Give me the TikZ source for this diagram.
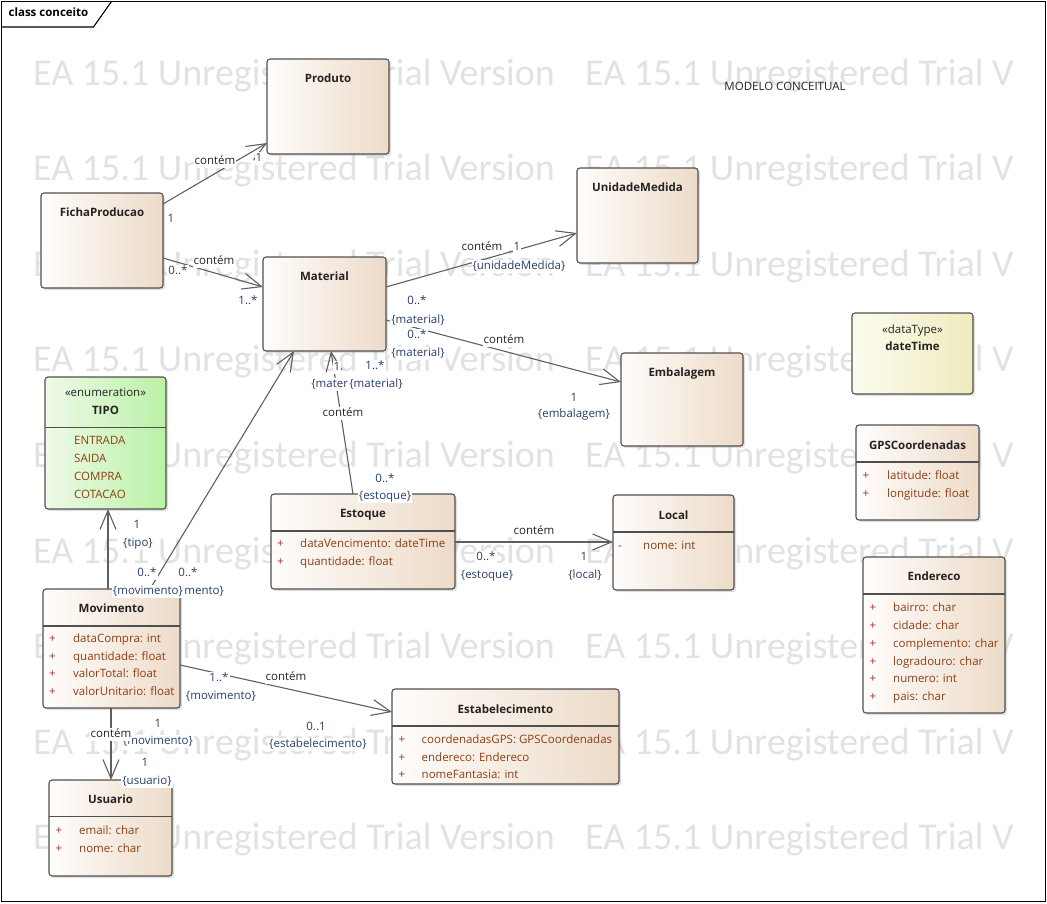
\documentclass[tikz,border=0pt]{standalone}
\usepackage{fontspec}
\setmainfont{Open Sans}
\newfontfamily\wmfont{Carlito}
\usepackage{xcolor}
\usepackage{tikz}
\usetikzlibrary{arrows.meta,positioning,shadows}

\definecolor{boxline}{RGB}{80,80,80}
\definecolor{linkline}{RGB}{95,95,95}
\definecolor{clsleft}{RGB}{255,253,251}
\definecolor{clsright}{RGB}{237,219,201}
\definecolor{enumleft}{RGB}{238,250,232}
\definecolor{enumright}{RGB}{186,241,166}
\definecolor{typeleft}{RGB}{252,252,238}
\definecolor{typeright}{RGB}{239,235,190}
\definecolor{titletext}{RGB}{35,35,35}
\definecolor{attrtext}{RGB}{140,62,20}
\definecolor{vistext}{RGB}{165,40,40}
\definecolor{roletext}{RGB}{40,62,105}
\definecolor{wmgray}{RGB}{226,226,226}

\begin{document}
\begin{tikzpicture}[
    x=1pt, y=-1pt,
    font=\fontsize{11.5}{14}\selectfont,
    classbox/.style={draw=boxline, line width=1.1pt, rounded corners=3pt, anchor=north west, inner sep=0pt, outer sep=0pt,
        left color=clsleft, right color=clsright, drop shadow={shadow xshift=2pt, shadow yshift=-2pt, opacity=0.25}},
    enumbox/.style={classbox, left color=enumleft, right color=enumright},
    typebox/.style={classbox, left color=typeleft, right color=typeright},
    txt/.style={inner sep=0pt, text height=8.5pt, text depth=2.5pt},
    title/.style={txt, text=titletext, font=\fontsize{11.5}{14}\selectfont\bfseries},
    stereo/.style={txt, text=titletext},
    attr/.style={txt, anchor=west, text=attrtext},
    vis/.style={txt, text=vistext},
    sep/.style={draw=boxline, line width=1.1pt},
    assoc/.style={draw=linkline, line width=1.1pt, -{Straight Barb[length=19pt, width=16pt]}},
    role/.style={txt, inner sep=1pt, fill=white, text=roletext},
    verb/.style={txt, inner sep=1pt, fill=white, text=titletext},
    watermark/.style={anchor=base west, inner sep=0pt, text=wmgray, font=\wmfont\fontsize{38}{40}\selectfont}
]
    \useasboundingbox (0,0) rectangle (1047,903);

    % Watermark
    \begin{scope}
        \clip (0,0) rectangle (1012,903);
        \foreach \r in {0,...,8} {
            \node[watermark] (wm-a\r) at (33,{85+95.6*\r}) {EA 15.1 Unregistered Trial Version};
            \node[watermark] (wm-b\r) at (585,{85+95.6*\r}) {EA 15.1 Unregistered Trial Version};
        }
    \end{scope}

    % Frame
    \draw[line width=1.3pt] (1.5,1.5) rectangle (1045.5,901.5);
    \draw[line width=1.1pt] (1.5,27) -- (93.5,27) -- (111.5,1.5);
    \node[title, text=black] (frame-t) at (48.5,13.5) {class conceito};
    \node[stereo] (note) at (785,87) {MODELO CONCEITUAL};

    % Classes
    \node[classbox, minimum width=122pt, minimum height=95pt] (produto) at (267,59) {};
    \node[title] (produto-t) at ([shift={(0,20.5)}]produto.north) {Produto};

    \node[classbox, minimum width=122pt, minimum height=95pt] (ficha) at (41,193) {};
    \node[title] (ficha-t) at ([shift={(0,20.5)}]ficha.north) {FichaProducao};

    \node[classbox, minimum width=123pt, minimum height=94pt] (material) at (263,257) {};
    \node[title] (material-t) at ([shift={(0,20.5)}]material.north) {Material};

    \node[classbox, minimum width=121pt, minimum height=95pt] (unidade) at (577,168) {};
    \node[title] (unidade-t) at ([shift={(0,20.5)}]unidade.north) {UnidadeMedida};

    \node[classbox, minimum width=122pt, minimum height=93pt] (embalagem) at (621,353) {};
    \node[title] (embalagem-t) at ([shift={(0,20)}]embalagem.north) {Embalagem};

    \node[typebox, minimum width=121pt, minimum height=81pt] (datetime) at (852,313) {};
    \node[stereo] (datetime-s) at ([shift={(0,17.5)}]datetime.north) {«dataType»};
    \node[title] (datetime-t) at ([shift={(0,34)}]datetime.north) {dateTime};

    \node[classbox, minimum width=123pt, minimum height=95pt] (gps) at (856,425) {};
    \node[title] (gps-t) at ([shift={(0,21.5)}]gps.north) {GPSCoordenadas};
    \draw[sep] ([shift={(0,37)}]gps.north west) -- ([shift={(0,37)}]gps.north east);
    \foreach \t [count=\i] in {latitude: float, longitude: float} {
        \node[vis] (gps-v\i) at ([shift={(10,{51.5+18*(\i-1)})}]gps.north west) {+};
        \node[attr] (gps-a\i) at ([shift={(31,{51.5+18*(\i-1)})}]gps.north west) {\t};
    }

    \node[classbox, minimum width=142pt, minimum height=156pt] (endereco) at (863,557) {};
    \node[title] (endereco-t) at ([shift={(0,20.5)}]endereco.north) {Endereco};
    \draw[sep] ([shift={(0,37)}]endereco.north west) -- ([shift={(0,37)}]endereco.north east);
    \foreach \t [count=\i] in {bairro: char, cidade: char, complemento: char, logradouro: char, numero: int, pais: char} {
        \node[vis] (endereco-v\i) at ([shift={(10,{51.3+17.9*(\i-1)})}]endereco.north west) {+};
        \node[attr] (endereco-a\i) at ([shift={(30,{51.3+17.9*(\i-1)})}]endereco.north west) {\t};
    }

    \node[classbox, minimum width=121pt, minimum height=95pt] (local) at (613,495) {};
    \node[title] (local-t) at ([shift={(0,21)}]local.north) {Local};
    \draw[sep] ([shift={(0,37)}]local.north west) -- ([shift={(0,37)}]local.north east);
    \node[vis] (local-v1) at ([shift={(7,51.5)}]local.north west) {-};
    \node[attr] (local-a1) at ([shift={(30,51.5)}]local.north west) {nome: int};

    \node[classbox, minimum width=184pt, minimum height=95pt] (estoque) at (271,494) {};
    \node[title] (estoque-t) at ([shift={(0,20.5)}]estoque.north) {Estoque};
    \draw[sep] ([shift={(0,37)}]estoque.north west) -- ([shift={(0,37)}]estoque.north east);
    \foreach \t [count=\i] in {dataVencimento: dateTime, quantidade: float} {
        \node[vis] (estoque-v\i) at ([shift={(9.5,{50.5+17.9*(\i-1)})}]estoque.north west) {+};
        \node[attr] (estoque-a\i) at ([shift={(29,{50.5+17.9*(\i-1)})}]estoque.north west) {\t};
    }

    \node[classbox, minimum width=227pt, minimum height=95pt] (estab) at (392,689) {};
    \node[title] (estab-t) at ([shift={(0,21)}]estab.north) {Estabelecimento};
    \draw[sep] ([shift={(0,37)}]estab.north west) -- ([shift={(0,37)}]estab.north east);
    \foreach \t [count=\i] in {coordenadasGPS: GPSCoordenadas, endereco: Endereco, nomeFantasia: int} {
        \node[vis] (estab-v\i) at ([shift={(10,{51.5+17.7*(\i-1)})}]estab.north west) {+};
        \node[attr] (estab-a\i) at ([shift={(29.5,{51.5+17.7*(\i-1)})}]estab.north west) {\t};
    }

    \node[enumbox, minimum width=121pt, minimum height=132pt] (tipo) at (45,377) {};
    \node[stereo] (tipo-s) at ([shift={(0,16)}]tipo.north) {«enumeration»};
    \node[title] (tipo-t) at ([shift={(0,34)}]tipo.north) {TIPO};
    \draw[sep] ([shift={(0,50.5)}]tipo.north west) -- ([shift={(0,50.5)}]tipo.north east);
    \foreach \t [count=\i] in {ENTRADA, SAIDA, COMPRA, COTACAO} {
        \node[attr] (tipo-a\i) at ([shift={(29,{64+18*(\i-1)})}]tipo.north west) {\t};
    }

    \node[classbox, minimum width=137pt, minimum height=119pt] (movimento) at (43,589) {};
    \node[title] (movimento-t) at ([shift={(0,20.5)}]movimento.north) {Movimento};
    \draw[sep] ([shift={(0,37)}]movimento.north west) -- ([shift={(0,37)}]movimento.north east);
    \foreach \t [count=\i] in {dataCompra: int, quantidade: float, valorTotal: float, valorUnitario: float} {
        \node[vis] (movimento-v\i) at ([shift={(9.5,{50.5+17.6*(\i-1)})}]movimento.north west) {+};
        \node[attr] (movimento-a\i) at ([shift={(30,{50.5+17.6*(\i-1)})}]movimento.north west) {\t};
    }

    \node[classbox, minimum width=123pt, minimum height=96pt] (usuario) at (49,780) {};
    \node[title] (usuario-t) at ([shift={(0,20.5)}]usuario.north) {Usuario};
    \draw[sep] ([shift={(0,36.7)}]usuario.north west) -- ([shift={(0,36.7)}]usuario.north east);
    \foreach \t [count=\i] in {email: char, nome: char} {
        \node[vis] (usuario-v\i) at ([shift={(10,{51+18*(\i-1)})}]usuario.north west) {+};
        \node[attr] (usuario-a\i) at ([shift={(30,{51+18*(\i-1)})}]usuario.north west) {\t};
    }

    % Associations
    \draw[assoc] ([shift={(122,11)}]ficha.north west) -- ([shift={(0,84)}]produto.north west);
    \draw[assoc] ([shift={(122,65)}]ficha.north west) -- ([shift={(0,30)}]material.north west);
    \draw[assoc] ([shift={(123,30)}]material.north west) -- ([shift={(0,65)}]unidade.north west);
    \draw[assoc] ([shift={(123,63)}]material.north west) -- ([shift={(0,29)}]embalagem.north west);
    \draw[assoc] ([shift={(82,0)}]estoque.north west) -- ([shift={(68,94)}]material.north west);
    \draw[assoc] ([shift={(107,0)}]movimento.north west) -- ([shift={(31,94)}]material.north west);
    \draw[assoc] ([shift={(65,0)}]movimento.north west) -- ([shift={(63,132)}]tipo.north west);
    \draw[assoc] ([shift={(137,76)}]movimento.north west) -- ([shift={(0,23)}]estab.north west);
    \draw[assoc] ([shift={(68,119)}]movimento.north west) -- ([shift={(62,0)}]usuario.north west);
    \draw[assoc] ([shift={(184,48)}]estoque.north west) -- ([shift={(0,47)}]local.north west);

    % Labels
    \node[verb] (v-fp) at (215,161) {contém};
    \node[role] (r-fp1) at (259,158) {1};
    \node[role] (r-fp2) at (171,219) {1};

    \node[verb] (v-fm) at (214,261) {contém};
    \node[role] (r-fm1) at (178,271) {0..*};
    \node[role] (r-fm2) at (248,301) {1..*};

    \node[verb] (v-mu) at (482,247) {contém};
    \node[role] (r-mu1) at (517,247) {1};
    \node[role] (r-mu2) at (519,266) {\{unidadeMedida\}};
    \node[role] (r-mu3) at (417,301) {0..*};
    \node[role] (r-mu4) at (418,320) {\{material\}};

    \node[role] (r-me1) at (417,335) {0..*};
    \node[role] (r-me2) at (418,353) {\{material\}};
    \node[verb] (v-me) at (504,340) {contém};
    \node[role] (r-me3) at (574,398) {1};
    \node[role] (r-me4) at (574,414) {\{embalagem\}};

    \node[role] (r-em1) at (337,367) {1};
    \node[role] (r-em2) at (338,384) {\{material\}};
    \node[role] (r-vm3) at (375,366) {1..*};
    \node[role] (r-vm4) at (376,384) {\{material\}};
    \node[verb] (v-em) at (343,413) {contém};
    \node[role] (r-em3) at (385,479) {0..*};
    \node[role] (r-em4) at (385,496) {\{estoque\}};

    \node[role] (r-vm1) at (188,573) {0..*};
    \node[role] (r-vm2) at (189,591) {\{movimento\}};
    \node[role] (r-vt1) at (147,573) {0..*};
    \node[role] (r-vt2) at (148,591) {\{movimento\}};
    \node[role] (r-vt3) at (137,525) {1};
    \node[role] (r-vt4) at (138,543) {\{tipo\}};

    \node[role] (r-ve1) at (219,678) {1..*};
    \node[role] (r-ve2) at (221,696) {\{movimento\}};
    \node[verb] (v-ve) at (286,677) {contém};
    \node[role] (r-ve3) at (316,727) {0..1};
    \node[role] (r-ve4) at (318,744) {\{estabelecimento\}};

    \node[role] (r-vu1) at (158,724) {1};
    \node[role] (r-vu2) at (158,741) {\{movimento\}};
    \node[verb] (v-vu) at (111,734) {contém};
    \node[role] (r-vu3) at (145,763) {1};
    \node[role] (r-vu4) at (147,781) {\{usuario\}};

    \node[verb] (v-el) at (534,531) {contém};
    \node[role] (r-el1) at (486,557) {0..*};
    \node[role] (r-el2) at (487,575) {\{estoque\}};
    \node[role] (r-el3) at (584,557) {1};
    \node[role] (r-el4) at (585,575) {\{local\}};
\end{tikzpicture}
\end{document}
